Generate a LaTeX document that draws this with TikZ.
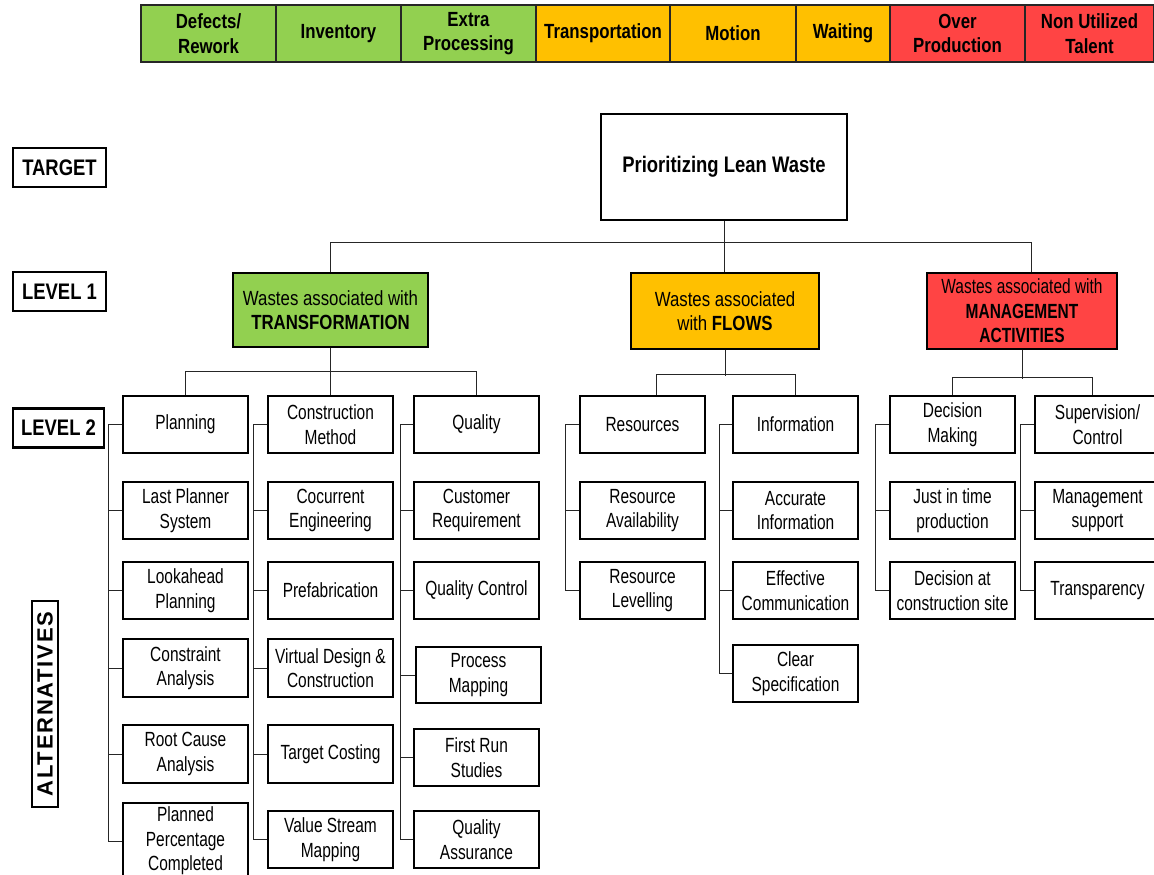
\documentclass[tikz,border=0pt]{standalone}
\usepackage{fontspec}
\setmainfont{Liberation Sans}[FakeStretch=0.82]
\newfontfamily\narrowfont{Liberation Sans}[FakeStretch=0.755]
\newfontfamily\widefont{Liberation Sans}[LetterSpace=8]
\usetikzlibrary{calc}

\definecolor{cgreen}{HTML}{92D050}
\definecolor{corange}{HTML}{FFC000}
\definecolor{cred}{HTML}{FF4444}

\begin{document}
\begin{tikzpicture}[x=1pt,y=-1pt,
  txt/.style={font=\fontsize{20.5}{24.5}\selectfont},
  ntxt/.style={font=\narrowfont\fontsize{20.5}{24.5}\selectfont},
  btxt/.style={font=\bfseries\fontsize{20.5}{24.5}\selectfont},
  cell/.style={btxt, draw=black!85, line width=1.3pt, minimum height=57pt,
    inner sep=0pt, align=center},
  lbl/.style={font=\bfseries\fontsize{22.5}{26}\selectfont, draw, line width=2.2pt,
    minimum width=93pt, minimum height=39pt, inner sep=0pt},
  head/.style={txt, draw, line width=1.2pt, align=center, inner sep=0pt},
  alt/.style={ntxt, draw, fill=white, line width=1.1pt, minimum width=125pt,
    minimum height=57pt, inner sep=0pt, align=center},
  link/.style={draw=black!85, line width=1pt}
]
\useasboundingbox (0,0) rectangle (1154,875);

% ---- waste categories bar ----
\node[cell, fill=cgreen,  minimum width=135pt] (w1) at (208.5,33.5) {Defects/\\Rework};
\node[cell, fill=cgreen,  minimum width=125pt] (w2) at (338.5,33.5) {Inventory};
\node[cell, fill=cgreen,  minimum width=135pt] (w3) at (468.5,33.5) {Extra\\Processing};
\node[cell, fill=corange, minimum width=134pt] (w4) at (603,33.5) {Transportation};
\node[cell, fill=corange, minimum width=126pt] (w5) at (733,33.5) {Motion};
\node[cell, fill=corange, minimum width=94pt]  (w6) at (843,33.5) {Waiting};
\node[cell, fill=cred,    minimum width=135pt] (w7) at (957.5,33.5) {Over\\Production};
\node[cell, fill=cred,    minimum width=129pt] (w8) at (1089.5,33.5) {Non Utilized\\Talent};

% ---- level labels ----
\node[lbl] (lt) at (59.5,167.5) {TARGET};
\node[lbl] (l1) at (59.5,291.5) {LEVEL 1};
\node[lbl, minimum width=91pt] (l2) at (58.5,428) {LEVEL 2};
\node[draw, line width=2.2pt, rotate=90, minimum width=206pt, minimum height=26pt,
  inner sep=0pt, font=\widefont\bfseries\fontsize{22}{24}\selectfont] (la) at (45,704) {ALTERNATIVES};

% ---- target and level 1 ----
\node[head, font=\bfseries\fontsize{22.5}{26}\selectfont, minimum width=246pt,
  minimum height=106pt] (T) at (724,167) {Prioritizing Lean Waste};
\node[head, fill=cgreen,  minimum width=195pt, minimum height=74pt] (G) at (330.5,310)
  {Wastes associated with\\\textbf{TRANSFORMATION}};
\node[head, fill=corange, minimum width=188pt, minimum height=76pt] (F) at (725,311)
  {Wastes associated\\with \textbf{FLOWS}};
\node[head, ntxt, fill=cred, minimum width=190pt, minimum height=76pt] (M) at (1022,311)
  {Wastes associated with\\\textbf{MANAGEMENT}\\\textbf{ACTIVITIES}};

% ---- transformation column: planning ----
\node[alt] (P1) at (185.5,424.5) {Planning};
\node[alt] (P2) at (185.5,510.5) {Last Planner\\System};
\node[alt] (P3) at (185.5,590.5) {Lookahead\\Planning};
\node[alt, minimum height=58pt] (P4) at (185.5,668) {Constraint\\Analysis};
\node[alt, minimum height=58pt] (P5) at (185.5,754) {Root Cause\\Analysis};
\node[alt, minimum height=76pt] (P6) at (185.5,841) {Planned\\Percentage\\Completed};

% ---- transformation column: construction method ----
\node[alt] (C1) at (330.5,424.5) {Construction\\Method};
\node[alt] (C2) at (330.5,510.5) {Cocurrent\\Engineering};
\node[alt] (C3) at (330.5,590.5) {Prefabrication};
\node[alt, minimum height=58pt] (C4) at (330.5,668) {Virtual Design \&\\Construction};
\node[alt, minimum height=58pt] (C5) at (330.5,754) {Target Costing};
\node[alt] (C6) at (330.5,839.5) {Value Stream\\Mapping};

% ---- transformation column: quality ----
\node[alt] (Q1) at (476.5,424.5) {Quality};
\node[alt] (Q2) at (476.5,510.5) {Customer\\Requirement};
\node[alt] (Q3) at (476.5,590.5) {Quality Control};
\node[alt, minimum height=56pt] (Q4) at (478.5,675) {Process\\Mapping};
\node[alt] (Q5) at (476.5,757.5) {First Run\\Studies};
\node[alt] (Q6) at (476.5,839.5) {Quality\\Assurance};

% ---- flows ----
\node[alt] (R1) at (642.5,424.5) {Resources};
\node[alt] (R2) at (642.5,510.5) {Resource\\Availability};
\node[alt] (R3) at (642.5,590.5) {Resource\\Levelling};
\node[alt] (I1) at (795.5,424.5) {Information};
\node[alt] (I2) at (795.5,510.5) {Accurate\\Information};
\node[alt] (I3) at (795.5,590.5) {Effective\\Communication};
\node[alt] (I4) at (795.5,673.5) {Clear\\Specification};

% ---- management activities ----
\node[alt] (D1) at (952.5,424.5) {Decision\\Making};
\node[alt] (D2) at (952.5,510.5) {Just in time\\production};
\node[alt] (D3) at (952.5,590.5) {Decision at\\construction site};
\node[alt] (S1) at (1097.5,424.5) {Supervision/\\Control};
\node[alt] (S2) at (1097.5,510.5) {Management\\support};
\node[alt] (S3) at (1097.5,590.5) {Transparency};

% ---- target to level 1 ----
\draw[link] (T.south) -- (T.south |- F.north);
\draw[link] (G.north) -- ++(0,-30) -| ($(M.north)+(9,0)$);

% ---- level 1 to level 2 ----
\draw[link, line width=1.5pt] (G.south) -- (C1.north);
\draw[link] (P1.north) -- ++(0,-24) -| (Q1.north);
\draw[link] (F.south) -- ++(0,26);
\draw[link] ($(R1.north)+(13.5,0)$) -- ++(0,-21) -| (I1.north);
\draw[link] (M.south) -- ++(0,29);
\draw[link] (D1.north) -- ++(0,-18) -| ($(S1.north)+(-5.5,0)$);

% ---- alternatives hanging from each level 2 box ----
\foreach \k in {2,...,6} {
  \draw[link] (P1.west) -- ++(-14,0) |- (P\k.west);
  \draw[link] (C1.west) -- ++(-14,0) |- (C\k.west);
  \draw[link] (Q1.west) -- ++(-13,0) |- (Q\k.west);
}
\foreach \k in {2,3} {
  \draw[link] (R1.west) -- ++(-14,0) |- (R\k.west);
  \draw[link] (D1.west) -- ++(-14,0) |- (D\k.west);
  \draw[link] (S1.west) -- ++(-14,0) |- (S\k.west);
}
\foreach \k in {2,3,4} {
  \draw[link] (I1.west) -- ++(-13,0) |- (I\k.west);
}
\end{tikzpicture}
\end{document}
